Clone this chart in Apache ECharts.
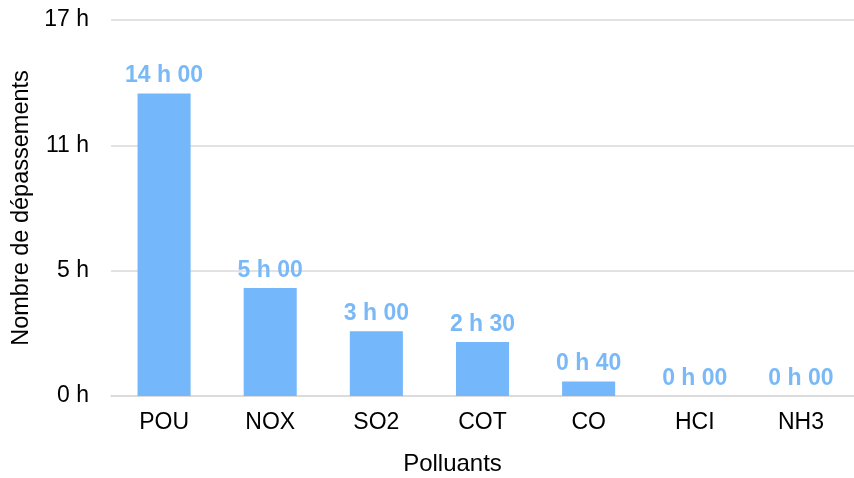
<!DOCTYPE html>
<html>
<head>
<meta charset="utf-8">
<script src="https://cdn.jsdelivr.net/npm/echarts@6/dist/echarts.min.js"></script>
<style>
html,body{margin:0;padding:0;background:#fff;}
#chart{width:854px;height:478px;}
</style>
</head>
<body>
<div id="chart"></div>
<script>
// Data (hours)
var categories = ['POU', 'NOX', 'SO2', 'COT', 'CO', 'HCI', 'NH3'];
var hours = [14, 5, 3, 2.5, 0.6667, 0, 0];
var yAxisMax = 17.4;
var yAxisStep = 5.8;

function fmtHM(v) {
  var total = Math.round(v * 60);
  var h = Math.floor(total / 60);
  var m = total % 60;
  return h + ' h ' + (m < 10 ? '0' + m : m);
}

var chart = echarts.init(document.getElementById('chart'), null, {renderer: 'canvas'});
var font = 'Liberation Sans, Arial, sans-serif';
chart.setOption({
  animation: false,
  backgroundColor: '#ffffff',
  grid: {left: 111, right: 0, top: 20, bottom: 82, containLabel: false, outerBoundsMode: 'none'},
  xAxis: {
    type: 'category',
    data: categories,
    name: 'Polluants',
    nameLocation: 'middle',
    nameGap: 56,
    nameTextStyle: {fontFamily: font, fontSize: 24, color: '#000', padding: [0, 60, 0, 0]},
    axisLine: {show: true, lineStyle: {color: '#d9d9d9', width: 1.5}},
    axisTick: {show: false},
    axisLabel: {fontFamily: font, fontSize: 23, color: '#000', margin: 15}
  },
  yAxis: {
    type: 'value',
    min: 0,
    max: yAxisMax,
    interval: yAxisStep,
    name: 'Nombre de dépassements',
    nameLocation: 'middle',
    nameGap: 74,
    nameTextStyle: {fontFamily: font, fontSize: 23.5, color: '#000'},
    axisLine: {show: false},
    axisTick: {show: false},
    splitLine: {lineStyle: {color: '#d9d9d9', width: 1.5}},
    axisLabel: {
      fontFamily: font, fontSize: 23, color: '#000', margin: 22,
      formatter: function (v) { return Math.floor(v + 1e-9) + ' h'; }
    }
  },
  series: [{
    type: 'bar',
    data: hours,
    barCategoryGap: '50%',
    itemStyle: {color: '#75B7FB'},
    label: {
      show: true,
      position: 'top',
      distance: 6,
      fontFamily: font,
      fontSize: 23,
      fontWeight: 'bold',
      color: '#7AB9F8',
      formatter: function (p) { return fmtHM(p.value); }
    }
  }]
});
</script>
</body>
</html>
